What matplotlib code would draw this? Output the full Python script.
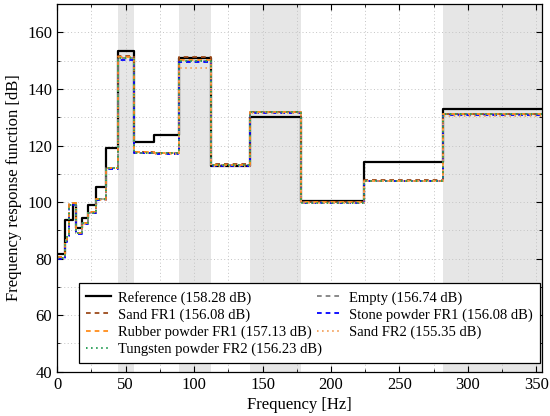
import matplotlib
matplotlib.use("Agg")
import matplotlib.pyplot as plt
from matplotlib.ticker import MultipleLocator

plt.rcParams['font.family'] = ['Liberation Serif', 'DejaVu Serif']

# 1/3-octave band edges [Hz]
edges = [0, 5.6, 7.1, 8.9, 11.2, 14.1, 17.8, 22.4, 28.2, 35.5, 44.7, 56.2,
         70.8, 89.1, 112, 141, 178, 224, 282, 355]

reference = [81.5, 93.5, 93.5, 93.5, 99.0, 91.0, 94.5, 98.8, 105.4, 119.0, 153.3,
             121.4, 123.8, 151.0, 112.8, 130.0, 100.5, 114.0, 132.8]
empty = [80.3, 86.5, 88.5, 99.0, 99.0, 89.0, 92.5, 96.3, 101.0, 112.0, 151.0,
         117.5, 117.2, 150.0, 113.0, 132.0, 100.0, 107.5, 131.2]
sand_fr1 = [80.5, 86.5, 88.5, 99.5, 99.5, 89.2, 92.7, 96.5, 101.2, 112.2, 151.5,
            117.7, 117.3, 151.2, 113.5, 132.0, 100.0, 107.7, 131.3]
stone_fr1 = [80.0, 85.8, 88.0, 98.8, 98.8, 88.8, 92.2, 96.0, 100.7, 111.8, 150.3,
             117.3, 117.0, 149.5, 112.8, 131.6, 99.6, 107.3, 130.8]
rubber_fr1 = [80.5, 86.5, 88.7, 99.5, 99.5, 89.2, 92.6, 96.4, 101.1, 112.1, 151.2,
              117.6, 117.3, 150.2, 113.2, 132.0, 100.1, 107.6, 131.3]
sand_fr2 = [80.2, 86.3, 88.3, 99.0, 99.0, 88.9, 92.4, 96.2, 100.9, 111.9, 150.8,
            117.4, 117.1, 147.5, 112.9, 131.5, 99.8, 107.3, 130.3]
tungsten_fr2 = [80.3, 86.4, 88.4, 99.0, 99.0, 89.0, 92.5, 96.3, 101.0, 112.0, 150.9,
                117.5, 117.2, 150.0, 113.0, 131.8, 99.8, 107.4, 131.0]

labels = ["Reference (158.28 dB)", "Empty (156.74 dB)", "Sand FR1 (156.08 dB)",
          "Stone powder FR1 (156.08 dB)", "Rubber powder FR1 (157.13 dB)",
          "Sand FR2 (155.35 dB)", "Tungsten powder FR2 (156.23 dB)"]

shaded = [(44.7, 56.2), (89.1, 112), (141, 178), (282, 355)]

series = [reference, empty, sand_fr1, stone_fr1, rubber_fr1, sand_fr2, tungsten_fr2]
colors = ['black', '#808080', '#9c4a1a', '#0000ff', '#ff8c1a', '#f4a460', '#2ca05a']
dash = (0, (2.6, 2.2))
dot = (0, (0.8, 1.8))
styles = ['-', dash, dash, dash, dash, dot, dot]
widths = [1.6, 1.3, 1.3, 1.3, 1.3, 1.4, 1.4]

fig = plt.figure(figsize=(5.5, 4.16), dpi=100)
ax = fig.add_axes([0.104, 0.1065, 0.881, 0.8835])

for a, b in shaded:
    ax.axvspan(a, b, color='#e6e6e6', lw=0, zorder=0.2)

handles = []
for vals, c, ls, lw, lab in zip(series, colors, styles, widths, labels):
    y = list(vals) + [vals[-1]]
    h, = ax.plot(edges, y, drawstyle='steps-post', color=c, linestyle=ls, lw=lw, label=lab)
    handles.append(h)

ax.set_xlim(0, 354)
ax.set_ylim(40, 170)
ax.xaxis.set_major_locator(MultipleLocator(50))
ax.xaxis.set_minor_locator(MultipleLocator(25))
ax.yaxis.set_major_locator(MultipleLocator(20))
ax.yaxis.set_minor_locator(MultipleLocator(10))
ax.set_axisbelow(True)
ax.grid(True, which='both', linestyle=(0, (1, 2.5)), color='#c4c4c4', lw=0.7)
ax.tick_params(which='both', direction='in', top=True, right=True, labelsize=12)
ax.tick_params(which='major', length=4)
ax.tick_params(which='minor', length=2)
for s in ax.spines.values():
    s.set_linewidth(0.9)

ax.set_xlabel("Frequency [Hz]", fontsize=12, labelpad=3)
ax.set_ylabel("Frequency response function [dB]", fontsize=12, labelpad=4)

order = [0, 2, 4, 6, 1, 3, 5]
leg = ax.legend([handles[i] for i in order], [labels[i] for i in order],
                ncol=2, loc='lower left', bbox_to_anchor=(0.045, 0.023, 0.952, 0.215),
                mode='expand', fontsize=10.5, frameon=True, fancybox=False,
                edgecolor='black', framealpha=1, handlelength=1.7, handletextpad=0.5,
                labelspacing=0.25, borderpad=0.5, borderaxespad=0)
leg.get_frame().set_linewidth(0.9)

fig.savefig("out.png", dpi=100)
